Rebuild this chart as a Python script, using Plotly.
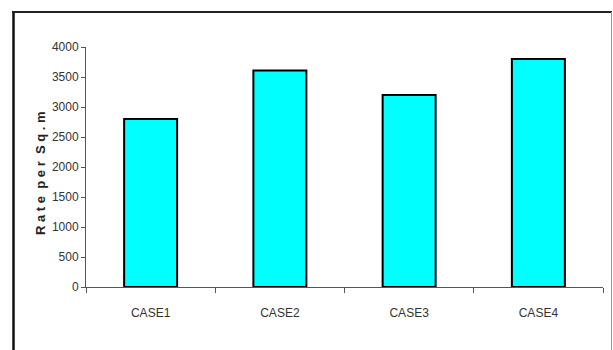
import plotly.graph_objects as go

categories = ["CASE1", "CASE2", "CASE3", "CASE4"]
rates = [2800, 3610, 3200, 3800]
y_ticks = [0, 500, 1000, 1500, 2000, 2500, 3000, 3500, 4000]
y_title = "R a t e  p e r  S q . m"

L, R, T, B = 86, 603, 47, 287
W, H = 613, 350

def px_x(p):
    return (p - L) / (R - L)

def px_y(p):
    return (B - p) / (B - T)

FONT = "Liberation Sans, Arial, sans-serif"

fig = go.Figure()
fig.add_trace(go.Bar(
    x=categories, y=rates,
    marker=dict(color="#00FFFF", line=dict(color="#000000", width=2)),
    width=0.41,
))

fig.update_layout(
    width=W, height=H,
    margin=dict(l=L, r=W - R, t=T, b=H - B, pad=0),
    plot_bgcolor="white", paper_bgcolor="white",
    showlegend=False,
    font=dict(family=FONT, size=12, color="#333333"),
    xaxis=dict(
        type="category", showgrid=False, showline=True, linecolor="#555555", linewidth=1,
        ticks="outside", tickson="boundaries", ticklen=5, tickcolor="#555555",
        ticklabelstandoff=15, range=[-0.5, 3.5],
    ),
    yaxis=dict(
        range=[0, 4000], tickvals=y_ticks, showgrid=False, zeroline=False,
        showline=True, linecolor="#555555", linewidth=1,
        ticks="outside", ticklen=4, tickcolor="#555555",
    ),
    annotations=[
        dict(text=y_title, xref="paper", yref="paper", x=px_x(40), y=px_y(173),
             xanchor="center", yanchor="middle", textangle=-90, showarrow=False,
             font=dict(family=FONT, size=13, color="#222222", weight="bold")),
    ],
    shapes=[
        dict(type="line", xref="paper", yref="paper", x0=px_x(13.5), x1=px_x(13.5),
             y0=px_y(11), y1=px_y(352), line=dict(color="#111111", width=2.5)),
        dict(type="line", xref="paper", yref="paper", x0=px_x(12), x1=px_x(612),
             y0=px_y(12), y1=px_y(12), line=dict(color="#222222", width=2)),
        dict(type="line", xref="paper", yref="paper", x0=px_x(611.5), x1=px_x(611.5),
             y0=px_y(12), y1=px_y(352), line=dict(color="#999999", width=1)),
    ],
)

fig.write_html("out.html")
